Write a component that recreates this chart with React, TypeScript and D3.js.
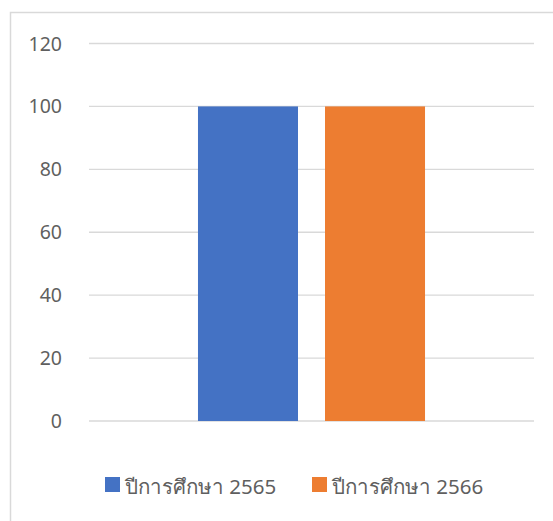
import React from "react";
import * as d3 from "d3";

const categories = [""];
const seriesNames = ["ปีการศึกษา 2565", "ปีการศึกษา 2566"];
const seriesColors = ["#4472C4", "#ED7D31"];
const values2565 = [100];
const values2566 = [100];
const yTicks = [0, 20, 40, 60, 80, 100, 120];

const W = 553;
const H = 521;
const FONT = "'Noto Sans', 'Open Sans', sans-serif";

export default function App() {
  const plotLeft = 89;
  const plotRight = 534;
  const plotTop = 43.5;
  const plotBottom = 421;

  const y = d3.scaleLinear().domain([0, 120]).range([plotBottom, plotTop]);
  const x0 = d3
    .scaleBand<string>()
    .domain(categories)
    .range([plotLeft, plotRight])
    .paddingInner(0)
    .paddingOuter(0.48);
  const x1 = d3
    .scaleBand<string>()
    .domain(seriesNames)
    .range([0, x0.bandwidth()])
    .paddingInner(0.2126)
    .paddingOuter(0);

  const seriesValues = [values2565, values2566];

  const legendItems = [
    { name: seriesNames[0], color: seriesColors[0], x: 105 },
    { name: seriesNames[1], color: seriesColors[1], x: 312 },
  ];

  return (
    <svg
      width={W}
      height={H}
      style={{ position: "absolute", left: 0, top: 0, display: "block" }}
    >
      <rect x={0} y={0} width={W} height={H} fill="#ffffff" />
      <rect
        x={10.5}
        y={12.5}
        width={W + 20}
        height={H + 20}
        fill="#ffffff"
        stroke="#d9d9d9"
        strokeWidth={1.5}
      />
      {yTicks.map((t) => (
        <g key={t}>
          <line
            x1={plotLeft}
            x2={plotRight}
            y1={y(t)}
            y2={y(t)}
            stroke="#d9d9d9"
            strokeWidth={1.3}
          />
          <text
            x={62}
            y={y(t)}
            dy="0.36em"
            textAnchor="end"
            fontFamily={FONT}
            fontSize={19.5}
            fill="#5f5f5f"
          >
            {t}
          </text>
        </g>
      ))}
      {categories.map((c, ci) => (
        <g key={ci} transform={`translate(${x0(c)},0)`}>
          {seriesNames.map((s, si) => (
            <rect
              key={s}
              x={x1(s)}
              y={y(seriesValues[si][ci])}
              width={x1.bandwidth()}
              height={y(0) - y(seriesValues[si][ci])}
              fill={seriesColors[si]}
            />
          ))}
        </g>
      ))}
      {legendItems.map((l) => (
        <g key={l.name}>
          <rect x={l.x} y={477} width={15} height={15} fill={l.color} />
          <text
            x={l.x + 20}
            y={493.5}
            fontFamily={FONT}
            fontSize={20.5}
            fill="#5f5f5f"
          >
            {l.name}
          </text>
        </g>
      ))}
    </svg>
  );
}
